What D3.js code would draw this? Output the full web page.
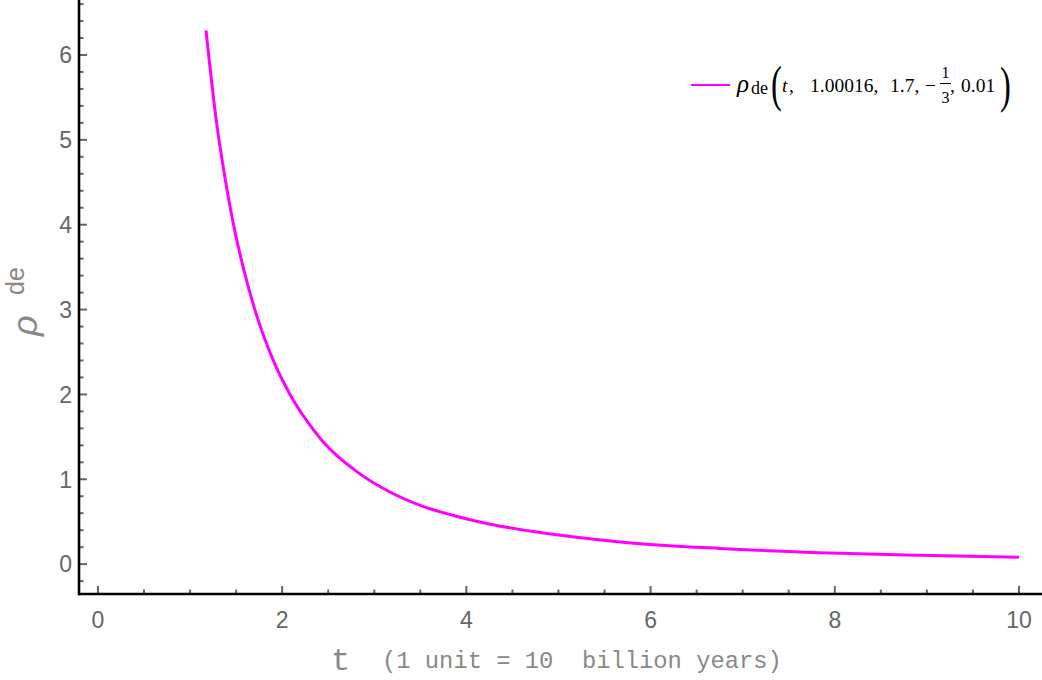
<!DOCTYPE html>
<html>
<head>
<meta charset="utf-8">
<script src="https://cdn.jsdelivr.net/npm/d3@7"></script>
<style>
  html, body { margin: 0; padding: 0; background: #fff; }
  svg { display: block; }
</style>
</head>
<body>
<svg id="chart" width="1042" height="680"></svg>
<script>
// ---- data ----
const tValues   = [1.173, 1.288, 1.36, 1.47, 1.578, 1.72, 1.90, 2.085, 2.28, 2.446, 2.81, 3.17, 3.53, 3.89, 4.26, 4.69, 5.67, 6.75, 7.84, 8.93, 10.0];
const rhoValues = [6.29, 5.20, 4.68, 4.01, 3.49, 2.94, 2.41, 2.00, 1.67, 1.44, 1.09, 0.85, 0.68, 0.565, 0.47, 0.39, 0.262, 0.185, 0.135, 0.104, 0.082];
const xMajorTicks = [0, 2, 4, 6, 8, 10];
const yMajorTicks = [0, 1, 2, 3, 4, 5, 6];
const xDomain = [-0.206, 10.25];
const yDomain = [-0.352, 6.648];

const svg = d3.select("#chart");
const W = 1042, H = 680;
const axisX = 79, axisY = 594;

const x = d3.scaleLinear().domain(xDomain).range([axisX, 1042]);
const y = d3.scaleLinear().domain(yDomain).range([axisY, 0]);

const tickColor = "#666";
const labelColor = "#666";

// minor ticks
const xMinor = d3.range(0.5, 10.25, 0.5).filter(v => !xMajorTicks.includes(v));
const yMinor = d3.range(-0.2, 6.65, 0.2).map(v => +v.toFixed(1)).filter(v => !yMajorTicks.includes(v));

const g = svg.append("g");

// x ticks (inward: upward)
g.selectAll(".xmaj").data(xMajorTicks).join("line")
  .attr("x1", d => x(d)).attr("x2", d => x(d))
  .attr("y1", axisY).attr("y2", axisY - 8)
  .attr("stroke", tickColor).attr("stroke-width", 2);
g.selectAll(".xmin").data(xMinor).join("line")
  .attr("x1", d => x(d)).attr("x2", d => x(d))
  .attr("y1", axisY).attr("y2", axisY - 4.5)
  .attr("stroke", tickColor).attr("stroke-width", 2);

// y ticks (inward: rightward)
g.selectAll(".ymaj").data(yMajorTicks).join("line")
  .attr("x1", axisX).attr("x2", axisX + 8)
  .attr("y1", d => y(d)).attr("y2", d => y(d))
  .attr("stroke", tickColor).attr("stroke-width", 2);
g.selectAll(".ymin").data(yMinor).join("line")
  .attr("x1", axisX).attr("x2", axisX + 4.5)
  .attr("y1", d => y(d)).attr("y2", d => y(d))
  .attr("stroke", tickColor).attr("stroke-width", 2);

// axis lines
g.append("line").attr("x1", axisX - 1).attr("x2", W).attr("y1", axisY).attr("y2", axisY)
  .attr("stroke", "#000").attr("stroke-width", 2.6);
g.append("line").attr("x1", axisX).attr("x2", axisX).attr("y1", 0).attr("y2", axisY + 1.3)
  .attr("stroke", "#000").attr("stroke-width", 2.6);

// tick labels
g.selectAll(".xl").data(xMajorTicks).join("text")
  .attr("x", d => x(d)).attr("y", 628)
  .attr("text-anchor", "middle")
  .attr("font-family", "Liberation Sans, Arial, sans-serif")
  .attr("font-size", 23).attr("fill", labelColor)
  .text(d => d);
g.selectAll(".yl").data(yMajorTicks).join("text")
  .attr("x", 72).attr("y", d => y(d) + 8.3)
  .attr("text-anchor", "end")
  .attr("font-family", "Liberation Sans, Arial, sans-serif")
  .attr("font-size", 23).attr("fill", labelColor)
  .text(d => d);

// curve
const pts = tValues.map((t, i) => [t, rhoValues[i]]);
g.append("path")
  .datum(pts)
  .attr("fill", "none")
  .attr("stroke", "#ff00ff")
  .attr("stroke-width", 3)
  .attr("d", d3.line().x(d => x(d[0])).y(d => y(d[1])).curve(d3.curveMonotoneX));

// x axis label
const xl = svg.append("text")
  .attr("font-family", "Liberation Mono, Courier New, monospace")
  .attr("fill", "#888")
  .style("white-space", "pre");
xl.append("tspan").attr("x", 331).attr("y", 670).attr("font-size", 32).text("t");
xl.append("tspan").attr("x", 382).attr("y", 668).attr("font-size", 23.8).text("(1 unit = 10  billion years)");

// y axis label (rotated)
const yl = svg.append("g").attr("transform", "translate(37,336) rotate(-90)");
yl.append("text").attr("x", 0).attr("y", 0)
  .attr("font-family", "Liberation Sans, Arial, sans-serif").attr("font-style", "italic")
  .attr("font-size", 36).attr("fill", "#888")
  .text("ρ");
yl.append("text").attr("x", 41).attr("y", -13)
  .attr("font-family", "Liberation Sans, Arial, sans-serif").attr("font-size", 25).attr("fill", "#888")
  .text("de");

// legend
const lg = svg.append("g");
lg.append("line").attr("x1", 691).attr("x2", 730).attr("y1", 85).attr("y2", 85)
  .attr("stroke", "#ff00ff").attr("stroke-width", 2);
const serif = "Liberation Serif, Times New Roman, serif";
const txt = (xp, yp, s, size, italic) => lg.append("text")
  .attr("x", xp).attr("y", yp).attr("font-family", serif)
  .attr("font-size", size).attr("fill", "#000")
  .attr("font-style", italic ? "italic" : "normal").text(s);
txt(737, 92, "ρ", 25, true);
txt(751, 94, "de", 18, false);
lg.append("text").attr("transform", "translate(771,101) scale(0.65,1)")
  .attr("font-family", serif).attr("font-size", 50).attr("fill", "#000").text("(");
txt(782, 92, "t", 19.5, true);
txt(789, 92, ",", 19.5, false);
txt(810, 92, "1.00016,", 19.5, false);
txt(890, 92, "1.7,", 19.5, false);
txt(925, 92, "−", 19.5, false);
lg.append("text").attr("x", 945.5).attr("y", 78).attr("text-anchor", "middle").attr("font-family", serif)
  .attr("font-size", 16).attr("fill", "#000").text("1");
lg.append("line").attr("x1", 940).attr("x2", 951).attr("y1", 83.5).attr("y2", 83.5)
  .attr("stroke", "#000").attr("stroke-width", 1);
lg.append("text").attr("x", 945.5).attr("y", 103).attr("text-anchor", "middle").attr("font-family", serif)
  .attr("font-size", 16).attr("fill", "#000").text("3");
txt(950, 92, ",", 19.5, false);
txt(961, 92, "0.01", 19.5, false);
lg.append("text").attr("transform", "translate(1000,102) scale(0.65,1)")
  .attr("font-family", serif).attr("font-size", 50).attr("fill", "#000").text(")");
</script>
</body>
</html>
